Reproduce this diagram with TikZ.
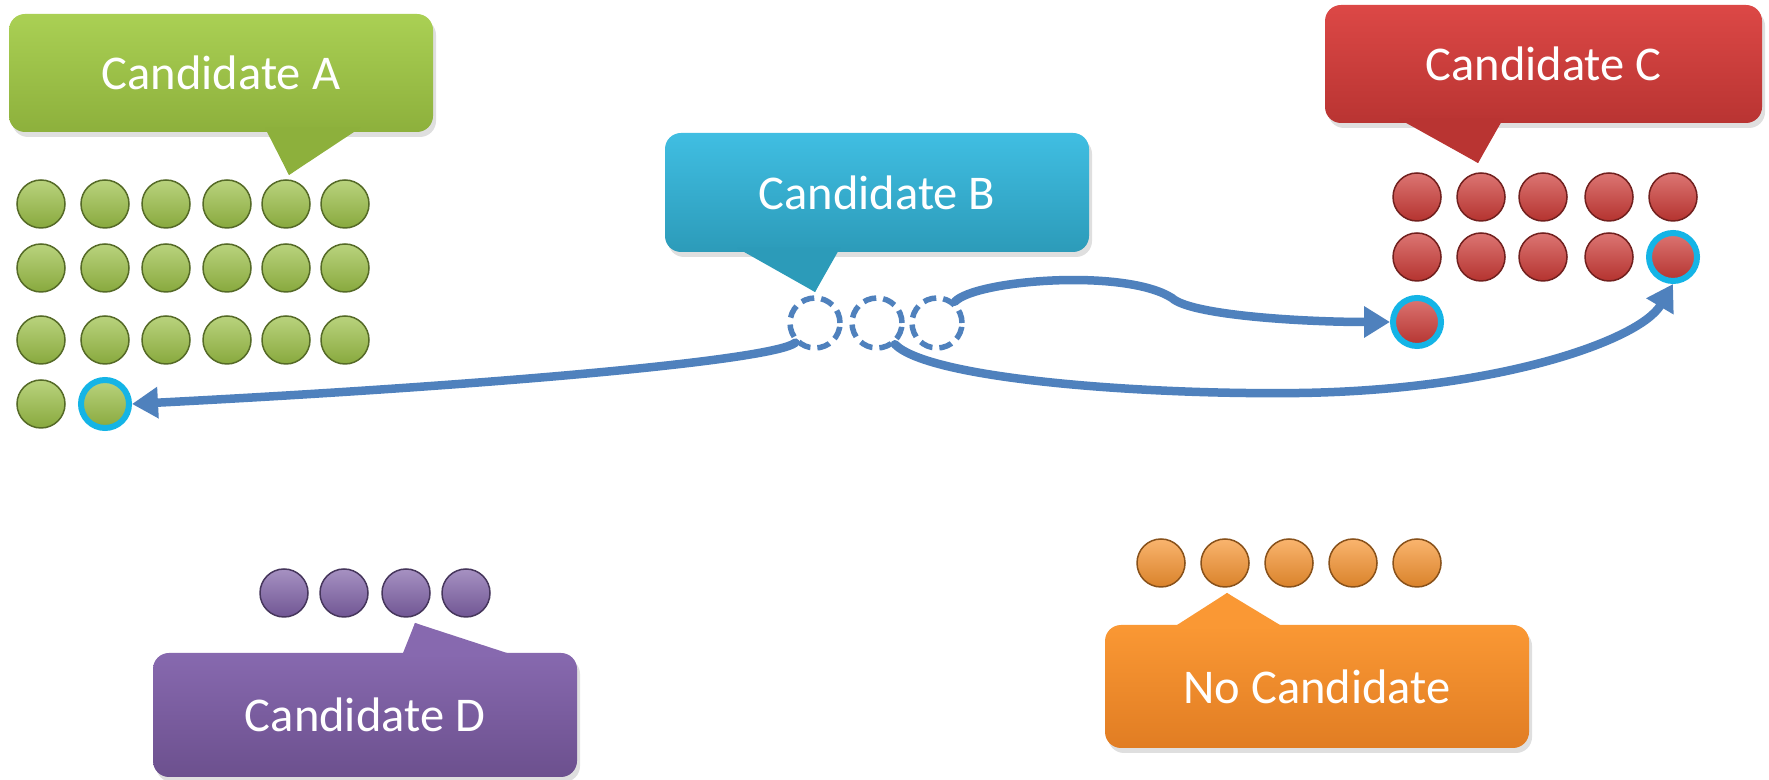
\documentclass[tikz,border=0pt]{standalone}
\usepackage{fontspec}
\setmainfont{Carlito}
\usetikzlibrary{arrows.meta,shadows}
\definecolor{gtop}{RGB}{170,208,84}
\definecolor{gbot}{RGB}{141,176,60}
\definecolor{btop}{RGB}{64,190,226}
\definecolor{bbot}{RGB}{44,155,185}
\definecolor{rtop}{RGB}{220,72,70}
\definecolor{rbot}{RGB}{185,52,50}
\definecolor{ptop}{RGB}{135,105,175}
\definecolor{pbot}{RGB}{108,80,142}
\definecolor{otop}{RGB}{250,152,52}
\definecolor{obot}{RGB}{225,125,35}
\definecolor{gball}{RGB}{155,192,70}
\definecolor{rball}{RGB}{205,58,54}
\definecolor{pball}{RGB}{128,98,168}
\definecolor{oball}{RGB}{247,148,48}
\definecolor{arrowblue}{RGB}{79,129,189}
\definecolor{ringcyan}{RGB}{20,180,230}
\begin{document}
\begin{tikzpicture}[x=0.1mm,y=-0.1mm,
  callout/.style={rectangle, rounded corners=1.6mm, minimum width=42.4mm,
    inner sep=0pt, text=white, font=\fontsize{13.8}{16}\selectfont,
    drop shadow={opacity=0.25, shadow xshift=0.3mm, shadow yshift=-0.5mm}},
  ball/.style={circle, inner sep=0pt, minimum size=4.8mm,
    top color=#1!70!white, bottom color=#1!88!black, draw=#1!55!black, line width=0.15mm},
  gdot/.style={ball=gball},
  rdot/.style={ball=rball},
  pdot/.style={ball=pball},
  odot/.style={ball=oball},
  hl/.style={draw=ringcyan, line width=0.6mm, minimum size=4.8mm},
  dcirc/.style={circle, inner sep=0pt, minimum size=5mm, draw=arrowblue,
    line width=0.55mm, dash pattern=on 1.3mm off 0.7mm},
  arr/.style={draw=arrowblue, line width=0.85mm, line cap=round,
    -{Triangle[length=2.6mm,width=3mm]}}
]
\useasboundingbox[fill=white] (0,0) rectangle (1769,780);

% pointers
\fill[gbot] (263,120) -- (289,175) -- (362,120) -- cycle;
\fill[bbot] (735,240) -- (815,292) -- (842,240) -- cycle;
\fill[rbot] (1397,111) -- (1478,163) -- (1505,111) -- cycle;
\fill[ptop] (400,665) -- (403,653) -- (415,623) -- (507,653) -- (507,665) -- cycle;
\fill[otop] (1177,637) -- (1177,625) -- (1227,593) -- (1280,625) -- (1280,637) -- cycle;

% boxes
\node[callout, minimum height=11.8mm, top color=gtop, bottom color=gbot] (A) at (221,73) {Candidate A};
\node[callout, minimum height=11.9mm, top color=btop, bottom color=bbot] (B) at (877,192.5) {Candidate B};
\node[callout, minimum width=43.7mm, minimum height=11.8mm, top color=rtop, bottom color=rbot] (C) at (1543.5,64) {Candidate C};
\node[callout, minimum height=12.4mm, top color=ptop, bottom color=pbot] (D) at (365,715) {Candidate D};
\node[callout, minimum height=12.3mm, top color=otop, bottom color=obot] (N) at (1317,686.5) {No Candidate};

% pointer patches over box edges
\fill[gbot] (265,128) -- (289,175) -- (360,128) -- cycle;
\fill[bbot] (737,248) -- (815,292) -- (840,248) -- cycle;
\fill[rbot] (1399,119) -- (1478,163) -- (1503,119) -- cycle;
\fill[ptop] (404,657) -- (415,623) -- (505,657) -- cycle;
\fill[otop] (1180,629) -- (1227,593) -- (1277,629) -- cycle;

% green dots
\foreach \y [count=\r] in {204,268,340}{
  \foreach \x [count=\i] in {41,105,166,227,286,345}{
    \node[gdot] (g\r\i) at (\x,\y) {};
  }
}
\node[gdot] (g41) at (41,404) {};
\node[gdot, hl] (g42) at (105,404) {};

% red dots
\foreach \y [count=\r] in {197,257}{
  \foreach \x [count=\i] in {1417,1481,1543,1609,1673}{
    \ifnum\r=2 \ifnum\i=5 \else \node[rdot] (r\r\i) at (\x,\y) {};\fi
    \else \node[rdot] (r\r\i) at (\x,\y) {};\fi
  }
}
\node[rdot, hl] (r25) at (1673,257) {};
\node[rdot, hl] (r31) at (1417,322) {};

% purple dots
\foreach \x [count=\i] in {284,344,406,466}{
  \node[pdot] (p\i) at (\x,593) {};
}
% orange dots
\foreach \x [count=\i] in {1161,1225,1289,1353,1417}{
  \node[odot] (o\i) at (\x,563) {};
}

% dashed circles
\node[dcirc] (b1) at (815,323) {};
\node[dcirc] (b2) at (877,323) {};
\node[dcirc] (b3) at (937,323) {};

% arrows
\draw[arr] (b1.-135) .. controls (775,360) and (500,385) .. (g42.east);
\draw[arr] (b3.50) .. controls (975,280) and (1125,268) .. (1172,298)
  .. controls (1190,315) and (1300,322) .. (r31.west);
\draw[arr] (b2.-50) .. controls (930,380) and (1150,395) .. (1300,393)
  .. controls (1500,390) and (1640,340) .. (r25.south);
\end{tikzpicture}
\end{document}
